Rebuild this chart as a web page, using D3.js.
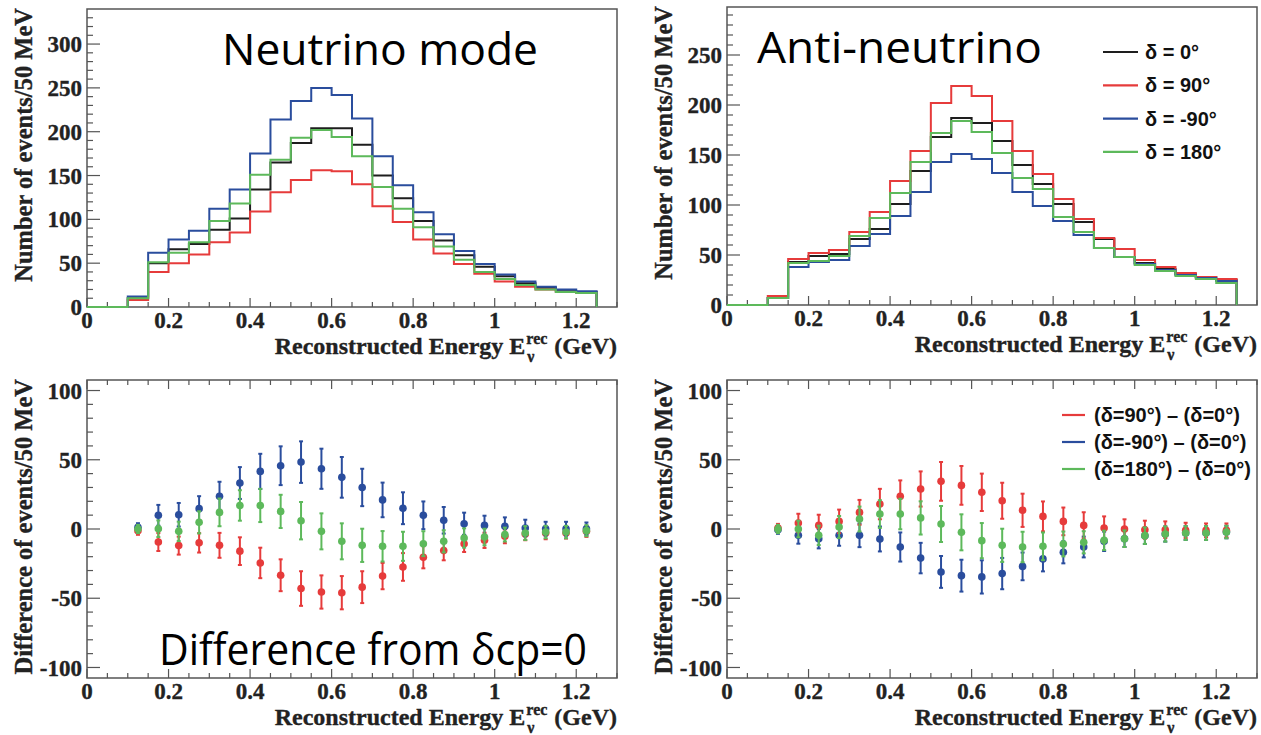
<!DOCTYPE html>
<html>
<head>
<meta charset="utf-8">
<script src="https://cdn.jsdelivr.net/npm/d3@7"></script>
<style>
  body { margin: 0; background: #fff; }
  svg { display: block; }
</style>
</head>
<body>
<div id="chart"></div>
<script>
'use strict';

// bin edges (GeV), 50 MeV bins
const binEdges = [0, 0.05, 0.1, 0.15, 0.2, 0.25, 0.3, 0.35, 0.4, 0.45, 0.5, 0.55, 0.6,
    0.65, 0.7, 0.75, 0.8, 0.85, 0.9, 0.95, 1.0, 1.05, 1.1, 1.15, 1.2, 1.25];

// neutrino mode histograms
const nuBlack = [0, 0, 10, 50, 66, 72, 88, 101, 134, 165, 187, 204, 204, 185, 150, 124, 98, 76, 59, 46, 35, 27, 22, 18, 17];
const nuRed = [0, 0, 8, 40, 50, 60, 74, 85, 109, 131, 145, 156, 155, 140, 115, 97, 77, 61, 49, 38, 29, 23, 20, 17, 16];
const nuBlue = [0, 0, 12, 62, 77, 87, 112, 134, 175, 214, 235, 250, 242, 215, 172, 139, 108, 83, 64, 49, 37, 29, 23, 20, 18];
const nuGreen = [0, 0, 10, 51, 62, 74, 98, 118, 151, 168, 193, 202, 194, 172, 137, 112, 91, 69, 54, 40, 32, 25, 20, 17, 16];

// anti-neutrino mode histograms
const anuBlack = [0, 0, 7, 43, 49, 51, 66, 76, 101, 134, 168, 187, 182, 164, 140, 121, 101, 83, 66, 48, 42, 36, 31, 28, 25];
const anuRed = [0, 0, 9, 46, 52, 55, 73, 93, 124, 154, 202, 219, 209, 184, 154, 131, 106, 86, 67, 56, 45, 38, 32, 28, 26];
const anuBlue = [0, 0, 7, 38, 43, 45, 59, 71, 89, 113, 143, 151, 146, 132, 113, 99, 84, 70, 57, 48, 41, 35, 30, 27, 24];
const anuGreen = [0, 0, 7, 42, 44, 49, 69, 87, 112, 143, 172, 184, 173, 152, 127, 116, 88, 73, 57, 48, 40, 34, 29, 26, 22];

// bin centres of the difference plots
const diffE = [0.125, 0.175, 0.225, 0.275, 0.325, 0.375, 0.425, 0.475, 0.525, 0.575, 0.625, 0.675,
    0.725, 0.775, 0.825, 0.875, 0.925, 0.975, 1.025, 1.075, 1.125, 1.175, 1.225];

const nuDiffRed = [-1.2, -9.4, -12, -10, -11.8, -16, -24.5, -33.4, -43, -45.5, -46, -42, -34, -27.4, -20.4, -15.6, -10.6, -8.2, -5.3, -3.6, -2.9, -2.9, -1.7];
const nuDiffRedErr = [3, 6.5, 6.5, 7, 9, 10, 11, 11.5, 12.5, 12, 12, 11.5, 9.5, 10, 8, 7, 6, 5.5, 5, 4.5, 4.5, 4, 4];
const nuDiffBlue = [1.2, 9.9, 10.3, 14.7, 23.6, 33.2, 41.6, 45.7, 48.3, 43.5, 37.3, 30, 21, 15, 9.9, 6.3, 3.8, 2.6, 1.9, 0.7, 0.2, 0.2, 0.2];
const nuDiffBlueErr = [3, 7.5, 8.5, 9, 10.5, 11.5, 12.7, 14, 15, 14.5, 14.7, 13.5, 12.5, 11.5, 10, 9.6, 8, 7, 6.5, 6, 5, 5, 4.5];
const nuDiffGreen = [0, 0.2, -1.7, 4.8, 12, 17, 17, 12.7, 6, -1.7, -8.9, -11.8, -12.5, -12.5, -10.6, -8.9, -6.5, -5.8, -4, -2.9, -2.2, -2.2, -1.2];
const nuDiffGreenErr = [3, 6, 7, 8, 10, 11, 12, 12, 13.5, 13, 13, 12, 11, 10.5, 9, 8, 7, 6, 5, 5, 4.5, 4.5, 4];

const anuDiffRed = [0.7, 4.3, 2.6, 5.5, 12, 18, 23.6, 28.9, 34.4, 31.5, 26.5, 20.4, 13.5, 9.1, 5.5, 2.6, 0.7, 0, -0.5, -0.5, -1, -1, -1];
const anuDiffRedErr = [3, 6.7, 7.7, 8.5, 9, 11, 11.5, 12.7, 14, 14, 13.5, 13, 12, 10.8, 10, 9.5, 8.4, 7, 6.5, 6, 5.5, 5, 5];
const anuDiffBlue = [-0.5, -4.6, -7, -4.6, -4.6, -7.2, -13, -21, -31, -33.7, -34.6, -32.2, -27, -21.6, -16.8, -13, -8.9, -7, -4.8, -3.6, -2.9, -2.9, -2.2];
const anuDiffBlueErr = [3, 6, 7, 7.5, 8.5, 9, 10.5, 11, 11.5, 11.5, 12, 11.3, 10, 9, 8, 7.5, 7, 6, 6, 5.5, 5, 5, 4.5];
const anuDiffGreen = [0, 0, -4.6, 1.4, 7.2, 10.8, 10.8, 8, 3.6, -2.4, -8.4, -11.8, -13, -12.5, -10.8, -9.6, -8.2, -7, -4.8, -3.6, -2.9, -2.9, -2.2];
const anuDiffGreenErr = [3, 6, 7, 8, 9, 10, 11, 12, 13, 13, 12.7, 12, 11, 10, 9, 8, 7, 6, 6, 5.5, 5, 5, 4.5];

const histTicks = [0, 50, 100, 150, 200, 250, 300];
const diffTicks = [-100, -50, 0, 50, 100];
const xTicks = [0, 0.2, 0.4, 0.6, 0.8, 1, 1.2];

const histLegend = ["δ = 0°", "δ = 90°", "δ = -90°", "δ = 180°"];
const diffLegend = ["(δ=90°) – (δ=0°)", "(δ=-90°) – (δ=0°)", "(δ=180°) – (δ=0°)"];

const col = { black: "#1e1e1e", red: "#e63b3b", blue: "#2a4d9d", green: "#5db95b" };
const serif = "'Liberation Serif', 'Times New Roman', serif";
const sans = "'Liberation Sans', Arial, sans-serif";

const W = 1261, H = 735;

var svg = d3.select("#chart").append("svg")
    .attr("width", W)
    .attr("height", H);

// bold serif text, slightly thickened to match the heavy ROOT output
function boldSerif(sel, size) {
    return sel.style("font-family", serif).style("font-weight", "bold").style("font-size", size + "px")
        .attr("fill", "#222").attr("stroke", "#222").attr("stroke-width", 0.35);
}

function frame(left, top, right, bottom, yDomain, yMajor, yMinorStep, yTitle, topTicks) {
    var g = svg.append("g");
    var x = d3.scaleLinear().domain([0, 1.3]).range([left, right]);
    var y = d3.scaleLinear().domain(yDomain).range([bottom, top]);

    // ticks inside the frame (ROOT style)
    var minorX = d3.range(0, 1.3001, 0.05);
    g.selectAll(".xt").data(minorX).enter().append("line")
        .attr("x1", d => x(d)).attr("x2", d => x(d))
        .attr("y1", bottom)
        .attr("y2", (d, i) => bottom - (i % 4 === 0 ? 9 : 5))
        .attr("stroke", "#555").attr("stroke-width", 1.2);
    if (topTicks) {
        g.selectAll(".xtt").data(minorX).enter().append("line")
            .attr("x1", d => x(d)).attr("x2", d => x(d))
            .attr("y1", top)
            .attr("y2", (d, i) => top + (i % 4 === 0 ? 9 : 5))
            .attr("stroke", "#555").attr("stroke-width", 1.2);
    }
    var minorY = d3.range(yMajor[0], yDomain[1], yMinorStep);
    g.selectAll(".yt").data(minorY).enter().append("line")
        .attr("x1", left)
        .attr("x2", d => left + (Math.abs(d % 50) < 1e-6 ? 13 : 6))
        .attr("y1", d => y(d)).attr("y2", d => y(d))
        .attr("stroke", "#555").attr("stroke-width", 1.2);

    g.append("rect")
        .attr("x", left).attr("y", top)
        .attr("width", right - left).attr("height", bottom - top)
        .attr("fill", "none").attr("stroke", "#555").attr("stroke-width", 1.5);

    boldSerif(g.selectAll(".yl").data(yMajor).enter().append("text"), 23)
        .attr("x", left - 5).attr("y", d => y(d))
        .attr("dy", "0.35em")
        .attr("text-anchor", "end")
        .text(d => d);

    boldSerif(g.selectAll(".xl").data(xTicks).enter().append("text"), 23)
        .attr("x", d => x(d)).attr("y", bottom + 21)
        .attr("text-anchor", "middle")
        .text(d => d);

    boldSerif(g.append("text"), 24.5)
        .attr("transform", "translate(" + (left - 55) + "," + (top - 1) + ") rotate(-90)")
        .attr("text-anchor", "end")
        .text(yTitle);

    // x title: Reconstructed Energy E_nu^rec (GeV), right aligned
    var xt = g.append("g");
    var base = bottom + 47;
    var t1 = boldSerif(xt.append("text"), 24).attr("x", 0).attr("y", base)
        .text("Reconstructed Energy E");
    var w1 = t1.node().getComputedTextLength() + 1;
    var sup = boldSerif(xt.append("text"), 16).attr("x", w1).attr("y", base - 10)
        .text("rec");
    boldSerif(xt.append("text"), 16).attr("x", w1 + 1).attr("y", base + 8)
        .text("ν");
    var w2 = w1 + sup.node().getComputedTextLength() + 7;
    var t3 = boldSerif(xt.append("text"), 24).attr("x", w2).attr("y", base)
        .text("(GeV)");
    var total = w2 + t3.node().getComputedTextLength();
    xt.attr("transform", "translate(" + (right - total) + ",0)");

    return { g: g, x: x, y: y };
}

function histPanel(p, series) {
    var line = d3.line()
        .x(d => p.x(d[0]))
        .y(d => p.y(d[1]));
    series.forEach(function (s) {
        var pts = [[binEdges[0], 0]];
        s.values.forEach(function (v, i) {
            pts.push([binEdges[i], v]);
            pts.push([binEdges[i + 1], v]);
        });
        pts.push([binEdges[binEdges.length - 1], 0]);
        p.g.append("path")
            .datum(pts)
            .attr("fill", "none")
            .attr("stroke", s.color)
            .attr("stroke-width", 2)
            .attr("d", line);
    });
}

function diffPanel(p, series) {
    series.forEach(function (s) {
        var pts = diffE.map((e, i) => ({ e: e, v: s.values[i], err: s.errs[i] }));
        var gs = p.g.append("g").attr("stroke", s.color).attr("fill", s.color);
        gs.selectAll(".eb").data(pts).enter().append("line")
            .attr("x1", d => p.x(d.e)).attr("x2", d => p.x(d.e))
            .attr("y1", d => p.y(d.v - d.err)).attr("y2", d => p.y(d.v + d.err))
            .attr("stroke-width", 2);
        gs.selectAll(".cap1").data(pts).enter().append("line")
            .attr("x1", d => p.x(d.e) - 2).attr("x2", d => p.x(d.e) + 2)
            .attr("y1", d => p.y(d.v + d.err)).attr("y2", d => p.y(d.v + d.err))
            .attr("stroke-width", 2);
        gs.selectAll(".cap2").data(pts).enter().append("line")
            .attr("x1", d => p.x(d.e) - 2).attr("x2", d => p.x(d.e) + 2)
            .attr("y1", d => p.y(d.v - d.err)).attr("y2", d => p.y(d.v - d.err))
            .attr("stroke-width", 2);
        gs.selectAll("circle").data(pts).enter().append("circle")
            .attr("cx", d => p.x(d.e)).attr("cy", d => p.y(d.v))
            .attr("r", 3.8).attr("stroke", "none");
    });
}

function bigLabel(x0, y0, txt, len) {
    svg.append("text")
        .attr("x", x0).attr("y", y0)
        .attr("textLength", len)
        .attr("lengthAdjust", "spacingAndGlyphs")
        .style("font-family", "'Open Sans', 'Noto Sans', sans-serif")
        .style("font-size", "44px")
        .attr("fill", "#000")
        .text(txt);
}

function legend(x0, y0, dy, len, gap, names, colors, size) {
    var g = svg.append("g");
    names.forEach(function (n, i) {
        g.append("line")
            .attr("x1", x0).attr("x2", x0 + len)
            .attr("y1", y0 + i * dy).attr("y2", y0 + i * dy)
            .attr("stroke", colors[i]).attr("stroke-width", 2.2);
        g.append("text")
            .attr("x", x0 + len + gap).attr("y", y0 + i * dy)
            .attr("dy", "0.35em")
            .style("font-family", sans).style("font-weight", "bold").style("font-size", size + "px")
            .attr("fill", "#111")
            .text(n);
    });
}

// top left: neutrino mode
var p1 = frame(87, 9, 617, 307, [0, 340], histTicks, 10, "Number of events/50 MeV", false);
histPanel(p1, [
    { values: nuBlack, color: col.black },
    { values: nuRed, color: col.red },
    { values: nuBlue, color: col.blue },
    { values: nuGreen, color: col.green }
]);

// top right: anti-neutrino mode
var p2 = frame(727, 7, 1257, 305, [0, 298], histTicks.slice(0, 6), 10, "Number of events/50 MeV", false);
histPanel(p2, [
    { values: anuBlack, color: col.black },
    { values: anuRed, color: col.red },
    { values: anuBlue, color: col.blue },
    { values: anuGreen, color: col.green }
]);

// bottom left: neutrino differences
var p3 = frame(87, 380, 617, 678, [-107.6, 107.6], diffTicks, 10, "Difference of events/50 MeV", true);
diffPanel(p3, [
    { values: nuDiffRed, errs: nuDiffRedErr, color: col.red },
    { values: nuDiffBlue, errs: nuDiffBlueErr, color: col.blue },
    { values: nuDiffGreen, errs: nuDiffGreenErr, color: col.green }
]);

// bottom right: anti-neutrino differences
var p4 = frame(727, 380, 1257, 678, [-107.6, 107.6], diffTicks, 10, "Difference of events/50 MeV", true);
diffPanel(p4, [
    { values: anuDiffBlue, errs: anuDiffBlueErr, color: col.blue },
    { values: anuDiffRed, errs: anuDiffRedErr, color: col.red },
    { values: anuDiffGreen, errs: anuDiffGreenErr, color: col.green }
]);

bigLabel(222, 65, "Neutrino mode", 316);
bigLabel(757, 63, "Anti-neutrino", 285);
bigLabel(159, 665, "Difference from δcp=0", 428);

legend(1103, 52, 33.3, 35, 7, histLegend, [col.black, col.red, col.blue, col.green], 20);
legend(1062, 415, 27, 23, 9, diffLegend, [col.red, col.blue, col.green], 20);
</script>
</body>
</html>
